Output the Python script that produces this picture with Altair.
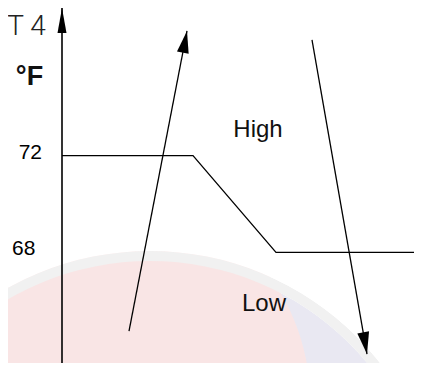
import math
import altair as alt
import pandas as pd

# ---- data (diagram units: x = time step, y = temperature in °F) ----
profile_x = [0, 13.1, 21.4, 36.0]
profile_temp = [72, 72, 68, 68]

rise_x = [6.7, 12.5]
rise_temp = [64.75, 77.15]
fall_x = [25.0, 30.5]
fall_temp = [76.78, 63.80]

axis_x = [0, 0]
axis_temp = [62.0, 78.1]

tick_labels = ["72", "68"]
tick_temp = [72, 68]
tick_x = [-3.17, -3.83]

zone_labels = ["High", "Low"]
zone_x = [19.6, 20.2]
zone_temp = [73.06, 65.88]

# ---- scales ----
W, H = 406, 355
x_dom = [-5.4, 35.2]
y_dom = [78.1 - H / 24.2, 78.1]
px_x = W / (x_dom[1] - x_dom[0])
px_y = H / (y_dom[1] - y_dom[0])
xs = alt.Scale(domain=x_dom, nice=False, zero=False)
ys = alt.Scale(domain=y_dom, nice=False, zero=False)
X = lambda f: alt.X(f, type="quantitative", scale=xs, axis=None)
Y = lambda f: alt.Y(f, type="quantitative", scale=ys, axis=None)

def angle(x0, y0, x1, y1):
    dx = (x1 - x0) * px_x
    dy = -(y1 - y0) * px_y
    return math.degrees(math.atan2(dx, -dy)) % 360

one = pd.DataFrame({"k": [0]})

# ---- faint watermark background ----
blue = alt.Chart(one).mark_arc(radius=282, theta=0, theta2=6.2832, color="#e9e8f2").encode(
    x=alt.value(142), y=alt.value(535))
pink = alt.Chart(one).mark_arc(radius=210, theta=0, theta2=6.2832, color="#f9e5e5").encode(
    x=alt.value(92), y=alt.value(392))
ring = alt.Chart(one).mark_arc(radius=292, radius2=282, theta=0, theta2=6.2832, color="#f1f1f1").encode(
    x=alt.value(142), y=alt.value(535))
white = alt.Chart(one).mark_arc(radius=1200, radius2=292, theta=0, theta2=6.2832, color="#ffffff").encode(
    x=alt.value(142), y=alt.value(535))

# ---- lines ----
def line(xv, yv, sw=1.4):
    df = pd.DataFrame({"x": xv, "y": yv, "o": list(range(len(xv)))})
    return alt.Chart(df).mark_line(color="black", strokeWidth=sw, clip=True).encode(
        x=X("x"), y=Y("y"), order="o:Q")

prof = line(profile_x, profile_temp, 1.3)
rise = line(rise_x, rise_temp, 1.3)
fall = line(fall_x, fall_temp, 1.3)
axis_line = line(axis_x, axis_temp, 1.6)

def head(x, y, ang, path, size):
    df = pd.DataFrame({"x": [x], "y": [y]})
    return alt.Chart(df).mark_point(shape=path, size=size, filled=True, color="black",
                                    opacity=1, angle=ang, strokeWidth=0).encode(x=X("x"), y=Y("y"))

arrow_path = "M0,0L0.27,1L-0.27,1Z"
h_rise = head(rise_x[1], rise_temp[1], angle(rise_x[0], rise_temp[0], rise_x[1], rise_temp[1]), arrow_path, 1936)
h_fall = head(fall_x[1], fall_temp[1], angle(fall_x[0], fall_temp[0], fall_x[1], fall_temp[1]), arrow_path, 1936)
h_axis = head(axis_x[1], axis_temp[1], 0, "M0,0L0.18,1L-0.18,1Z", 2500)

# ---- texts ----
ticks_df = pd.DataFrame({"t": tick_labels, "x": tick_x, "y": tick_temp})
ticks = alt.Chart(ticks_df).mark_text(font="Liberation Sans", fontSize=21, color="black",
                                      baseline="middle", dy=-3).encode(x=X("x"), y=Y("y"), text="t:N")

zones_df = pd.DataFrame({"t": zone_labels, "x": zone_x, "y": zone_temp})
zones = alt.Chart(zones_df).mark_text(font="Liberation Sans", fontSize=24, color="#111",
                                      baseline="middle").encode(x=X("x"), y=Y("y"), text="t:N")

t4 = alt.Chart(pd.DataFrame({"t": ["T 4"], "x": [-3.55], "y": [77.0]})).mark_text(
    font="Roboto", fontWeight=300, fontSize=28, color="#222", baseline="alphabetic"
).encode(x=X("x"), y=Y("y"), text="t:N")

unit = alt.Chart(pd.DataFrame({"t": ["°F"], "x": [-3.25], "y": [75.26]})).mark_text(
    font="Liberation Sans", fontWeight="bold", fontSize=27, color="#111", baseline="middle"
).encode(x=X("x"), y=Y("y"), text="t:N")

chart = alt.layer(
    blue, pink, ring, white,
    prof, rise, fall, axis_line, h_rise, h_fall, h_axis,
    ticks, zones, t4, unit,
).properties(
    width=W, height=H, padding=0, autosize=alt.AutoSizeParams(type="none"), background="white"
).configure_view(stroke=None)

chart.save("out.html", embed_options={"renderer": "svg", "actions": False})
